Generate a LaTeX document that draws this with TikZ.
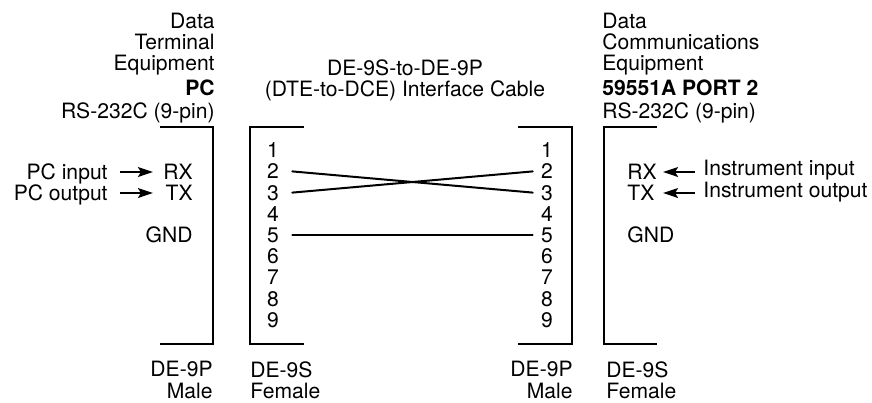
\documentclass[tikz,border=0pt]{standalone}
\usepackage{fontspec}
\setmainfont{TeX Gyre Heros}
\usetikzlibrary{arrows.meta}
\tikzset{
	lbl/.style={inner sep=0, font=\fontsize{10.55}{10.7}\selectfont, text height=7.5pt, text depth=0pt},
	block/.style={inner sep=0, font=\fontsize{10.55}{10.5}\selectfont},
	bracket/.style={line width=0.65pt},
	wire/.style={line width=1pt, line cap=round},
	sigarrow/.style={line width=0.6pt, -{Stealth[length=7.5pt, width=5pt, inset=1.5pt]}}
}

\begin{document}
\begin{tikzpicture}[x=0.5pt, y=-0.5pt]
			%%%%% START %%%%%
			\useasboundingbox (0, 0) rectangle (872, 402);
			
			% headings
			\node[block, anchor=north east, align=right] (dte) at (215, 12.5) {Data\\Terminal\\Equipment\\[2pt]\textbf{PC}\\[1.2pt]RS-232C (9-pin)};
			\node[block, anchor=north west, align=left] (dce) at (602, 12.5) {Data\\Communications\\Equipment\\[2pt]\textbf{59551A PORT 2}\\[1.2pt]RS-232C (9-pin)};
			\node[block, align=center] (cable) at (405, 80) {DE-9S-to-DE-9P\\(DTE-to-DCE) Interface Cable};
			
			% connector outlines
			\draw[bracket] (160, 127) -- (213, 127) -- (213, 344) -- (160, 344);
			\draw[bracket] (304, 127) -- (250, 127) -- (250, 344) -- (304, 344);
			\draw[bracket] (518, 127) -- (572, 127) -- (572, 344) -- (518, 344);
			\draw[bracket] (657, 127) -- (604, 127) -- (604, 344) -- (657, 344);
			
			% pin numbers
			\foreach \n in {1,...,9} {
				\node[lbl] (l\n) at (273, 129 + 21.2*\n) {\n};
				\node[lbl] (r\n) at (547, 129 + 21.2*\n) {\n};
			}
			\draw[wire] ([xshift=6.5pt]l2.east) -- ([xshift=-4pt]r3.west);
			\draw[wire] ([xshift=6.5pt]l3.east) -- ([xshift=-4pt]r2.west);
			\draw[wire] ([xshift=6.5pt]l5.east) -- ([xshift=-4pt]r5.west);
			
			% left side signals
			\node[lbl, anchor=east] (rxa) at (193, 172) {RX};
			\node[lbl, anchor=east] (txa) at (193, 193) {TX};
			\node[lbl, anchor=east] (gnda) at (193, 235) {GND};
			\node[lbl, anchor=east] (pcin) at (108, 172) {PC input};
			\node[lbl, anchor=east] (pcout) at (108, 193) {PC output};
			\draw[sigarrow, shorten <=6pt, shorten >=5pt] (pcin) -- (pcin -| rxa.west);
			\draw[sigarrow, shorten <=6pt, shorten >=5pt] (pcout) -- (pcout -| rxa.west);
			
			% right side signals
			\node[lbl, anchor=west] (rxb) at (627, 172) {RX};
			\node[lbl, anchor=west] (txb) at (627, 193) {TX};
			\node[lbl, anchor=west] (gndb) at (627, 235) {GND};
			\node[lbl, anchor=west] (instin) at (703, 168) {Instrument input};
			\node[lbl, anchor=west] (instout) at (703, 190) {Instrument output};
			\draw[sigarrow, shorten <=4pt, shorten >=3pt] (instin.west |- rxb) -- (rxb.east);
			\draw[sigarrow, shorten <=4pt, shorten >=3pt] (instout.west |- txb) -- (rxb.east |- txb);
			
			% gender labels
			\node[block, anchor=north east, align=right] (malea) at (213, 361) {DE-9P\\[0.4pt]Male};
			\node[block, anchor=north west, align=left] (femalea) at (250, 361) {DE-9S\\[0.4pt]Female};
			\node[block, anchor=north east, align=right] (maleb) at (573, 361) {DE-9P\\[0.4pt]Male};
			\node[block, anchor=north west, align=left] (femaleb) at (606, 361) {DE-9S\\[0.4pt]Female};
			%%%%% END %%%%%
\end{tikzpicture}
\end{document}
